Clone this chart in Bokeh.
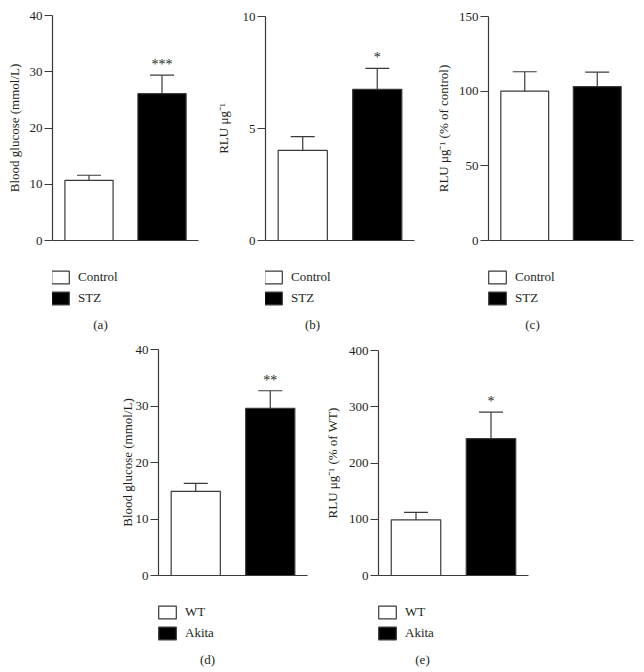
from bokeh.plotting import figure
from bokeh.models import (ColumnDataSource, FactorRange, Range1d, FixedTicker, Whisker,
                          TeeHead, Legend, LegendItem, Label, Spacer, LinearAxis)
from bokeh.layouts import row, column
from bokeh.core.properties import value
from bokeh.embed import file_html
from bokeh.resources import INLINE

# ---------------- data ----------------
cats_stz = ["Control", "STZ"]
cats_akita = ["WT", "Akita"]
bar_colors = ["white", "black"]

glucose_stz = [10.7, 26.1]
glucose_stz_err = [0.9, 3.3]
glucose_stz_stars = ["", "***"]
glucose_stz_ticks = [0, 10, 20, 30, 40]

rlu_stz = [4.02, 6.75]
rlu_stz_err = [0.62, 0.93]
rlu_stz_stars = ["", "*"]
rlu_stz_ticks = [0, 5, 10]

rlu_pct_ctrl = [100.0, 103.1]
rlu_pct_ctrl_err = [13.0, 9.6]
rlu_pct_ctrl_stars = ["", ""]
rlu_pct_ctrl_ticks = [0, 50, 100, 150]

glucose_akita = [14.9, 29.6]
glucose_akita_err = [1.4, 3.1]
glucose_akita_stars = ["", "**"]
glucose_akita_ticks = [0, 10, 20, 30, 40]

rlu_pct_wt = [98.8, 243.4]
rlu_pct_wt_err = [13.6, 47.0]
rlu_pct_wt_stars = ["", "*"]
rlu_pct_wt_ticks = [0, 100, 200, 300, 400]

FONT = "Liberation Serif"
INK = "#231f20"
LINE = "#3a3a3a"
CHART_H = 250
KEY_H = 85   # height of the legend/caption strip under each chart


def panel(cats, vals, errs, stars, ticks, ylabel, caption, width,
          bl, br, bt, lab_standoff, cap_x, leg_x):
    ymax = ticks[-1]
    src = ColumnDataSource(dict(cat=cats, val=vals,
                                upper=[v + e for v, e in zip(vals, errs)],
                                color=bar_colors, star=stars))

    # ---- chart ----
    p = figure(x_range=FactorRange(factors=cats, range_padding=0),
               y_range=Range1d(0, ymax), x_axis_type=None,
               width=width, height=CHART_H, output_backend="svg",
               toolbar_location=None, min_border_left=bl, min_border_right=br,
               min_border_top=bt, min_border_bottom=10)
    p.outline_line_color = None
    p.grid.visible = False

    p.vbar(x="cat", top="val", bottom=0, width=0.66, fill_color="color",
           line_color=LINE, line_width=1.2, source=src)
    p.add_layout(Whisker(source=src, base="cat", upper="upper", lower="val",
                         dimension="height", line_color=LINE, line_width=1.2,
                         upper_head=TeeHead(size=24, line_color=LINE, line_width=1.2),
                         lower_head=None, level="glyph"))
    p.text(x="cat", y="upper", text="star", source=src, text_align="center",
           text_baseline="bottom", text_font=value(FONT), text_font_size="14px",
           y_offset=-3, text_color=INK)

    yax = p.yaxis[0]
    yax.ticker = FixedTicker(ticks=ticks)
    yax.minor_tick_line_color = None
    yax.major_tick_in = 0
    yax.major_tick_out = 8
    yax.major_label_standoff = 2
    yax.axis_line_color = LINE
    yax.axis_line_width = 1.2
    yax.major_tick_line_color = LINE
    yax.major_tick_line_width = 1.2
    yax.major_label_text_font = FONT
    yax.major_label_text_font_size = "13px"
    yax.major_label_text_color = INK
    yax.axis_label = ylabel
    yax.axis_label_text_font = FONT
    yax.axis_label_text_font_size = "13px"
    yax.axis_label_text_font_style = "normal"
    yax.axis_label_text_color = INK
    yax.axis_label_standoff = lab_standoff

    p.add_layout(LinearAxis(ticker=FixedTicker(ticks=[]), axis_line_color=LINE,
                            axis_line_width=1.2, major_tick_out=0, major_tick_in=0,
                            major_label_standoff=0, minor_tick_line_color=None,
                            major_tick_line_color=None), "below")

    # ---- legend + caption strip (its frame lines up with the chart's) ----
    k = figure(x_range=p.x_range, y_range=Range1d(0, ymax), x_axis_type=None,
               y_axis_type=None, width=width, height=KEY_H, output_backend="svg",
               toolbar_location=None, min_border=0)
    k.outline_line_color = None
    k.grid.visible = False
    kr = k.vbar(x="cat", top="val", bottom=0, width=0.66, fill_color="color",
                line_color=LINE, line_width=1.2, source=src, visible=False)
    legend = Legend(items=[LegendItem(label=cats[0], renderers=[kr], index=0),
                           LegendItem(label=cats[1], renderers=[kr], index=1)],
                    location=(leg_x, 29), orientation="vertical",
                    glyph_width=22, glyph_height=16, label_standoff=7,
                    spacing=5, padding=0, margin=0, label_height=16,
                    border_line_color=None, background_fill_alpha=0,
                    inactive_fill_alpha=0,
                    label_text_font=FONT, label_text_font_size="13px",
                    label_text_color=INK)
    k.add_layout(legend)
    k.add_layout(Label(x=cap_x, y=11, x_units="screen", y_units="screen",
                       text=caption, text_align="center", text_baseline="middle",
                       text_font=FONT, text_font_size="13px", text_color=INK))
    return column(p, k, spacing=0)


pa = panel(cats_stz, glucose_stz, glucose_stz_err, glucose_stz_stars, glucose_stz_ticks,
           "Blood glucose (mmol/L)", "(a)", 212, 52, 14, 15, 5, 48, -3)
pb = panel(cats_stz, rlu_stz, rlu_stz_err, rlu_stz_stars, rlu_stz_ticks,
           "RLU \u03bcg\u207b\u00b9", "(b)", 220, 51, 18, 16, 9, 47, -3)
pc = panel(cats_stz, rlu_pct_ctrl, rlu_pct_ctrl_err, rlu_pct_ctrl_stars, rlu_pct_ctrl_ticks,
           "RLU \u03bcg\u207b\u00b9 (% of control)", "(c)", 206, 52, 5, 16, 5, 44, -2)
pd_ = panel(cats_akita, glucose_akita, glucose_akita_err, glucose_akita_stars, glucose_akita_ticks,
            "Blood glucose (mmol/L)", "(d)", 208, 46, 13, 14, -2, 49, -2)
pe = panel(cats_akita, rlu_pct_wt, rlu_pct_wt_err, rlu_pct_wt_stars, rlu_pct_wt_ticks,
           "RLU \u03bcg\u207b\u00b9 (% of WT)", "(e)", 220, 58, 12, 15, 6, 44, -2)

top = row(pa, pb, pc, spacing=0)
bottom = row(Spacer(width=112, height=CHART_H + KEY_H), pd_, pe, spacing=0)
layout = column(top, bottom, spacing=0)

open("out.html", "w").write(file_html(layout, INLINE))
